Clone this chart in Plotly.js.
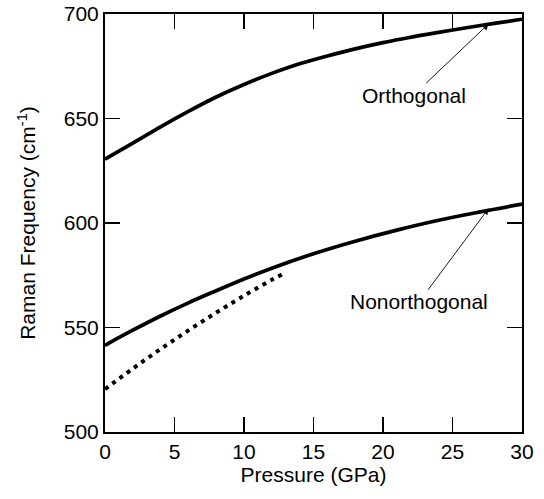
<!DOCTYPE html>
<html>
<head>
<meta charset="utf-8">
<script src="https://cdn.plot.ly/plotly-3.0.1.min.js"></script>
<style>html,body{margin:0;padding:0;background:#fff;}#chart{width:544px;height:499px;}</style>
</head>
<body>
<div id="chart"></div>
<script>
// Pressure (GPa) and Raman frequency (cm^-1)
var orthoP = [0, 2, 4, 6, 8, 10, 12, 14, 16, 18, 20, 22, 24, 26, 28, 30];
var orthoF = [630.5, 638.2, 646.0, 653.4, 660.3, 666.3, 671.6, 676.2, 679.9, 683.3, 686.3, 688.9, 691.2, 693.4, 695.5, 697.5];

var nonP = [0, 2, 4, 6, 8, 10, 12, 15, 18, 21, 24, 27, 30];
var nonF = [541.5, 548.7, 555.5, 561.8, 567.6, 573.2, 578.4, 585.3, 591.3, 596.6, 601.3, 605.3, 609.0];

var dotP = [0, 2, 4, 6, 8, 10, 12, 12.8];
var dotF = [520.5, 530.3, 539.7, 548.6, 557.1, 565.2, 572.8, 575.6];

var xTicks = [0, 5, 10, 15, 20, 25, 30];
var yTicks = [500, 550, 600, 650, 700];

var labels = ["Orthogonal", "Nonorthogonal"];
var labelPos = [[22.2, 661.2], [22.6, 562.3]];
var arrowHead = [[27.6, 695.3], [27.6, 607.0]];

var FONT = "Liberation Sans, Arial, Helvetica, sans-serif";

var traces = [
  {x: orthoP, y: orthoF, mode: "lines", line: {color: "#000", width: 3.7, shape: "spline"}},
  {x: nonP, y: nonF, mode: "lines", line: {color: "#000", width: 3.7, shape: "spline"}},
  {x: dotP, y: dotF, mode: "lines", line: {color: "#000", width: 4, dash: "4px,5px", shape: "spline"}}
];

var annotations = [];
for (var i = 0; i < labels.length; i++) {
  annotations.push({
    x: arrowHead[i][0], y: arrowHead[i][1], xref: "x", yref: "y",
    ax: labelPos[i][0], ay: labelPos[i][1], axref: "x", ayref: "y",
    text: labels[i], showarrow: true, arrowhead: 2, arrowsize: 1.4, arrowwidth: 0.9,
    arrowcolor: "#000", standoff: 0, borderpad: 0,
    font: {family: FONT, size: 21, color: "#000"}
  });
}

var axisCommon = {
  showgrid: false, zeroline: false, showline: true, linecolor: "#000", linewidth: 2,
  mirror: "ticks", ticks: "inside", ticklen: 15, tickwidth: 1.5, tickcolor: "#000",
  tickfont: {family: FONT, size: 21, color: "#000"}, automargin: false
};

var layout = {
  width: 544, height: 499,
  margin: {l: 105, r: 21.5, t: 14, b: 67},
  paper_bgcolor: "#fff", plot_bgcolor: "#fff",
  showlegend: false,
  font: {family: FONT, color: "#000"},
  xaxis: Object.assign({}, axisCommon, {
    range: [0, 30], tickmode: "array", tickvals: xTicks, ticktext: xTicks.map(String),
    title: {text: "Pressure (GPa)", font: {family: FONT, size: 21, color: "#000"}, standoff: 0}
  }),
  yaxis: Object.assign({}, axisCommon, {
    range: [500, 700], tickmode: "array", tickvals: yTicks, ticktext: yTicks.map(String),
    title: {text: "Raman Frequency (cm<sup>-1</sup>)", font: {family: FONT, size: 21, color: "#000"}, standoff: 22}
  }),
  annotations: annotations
};

Plotly.newPlot("chart", traces, layout, {displayModeBar: false, staticPlot: true});
</script>
</body>
</html>
